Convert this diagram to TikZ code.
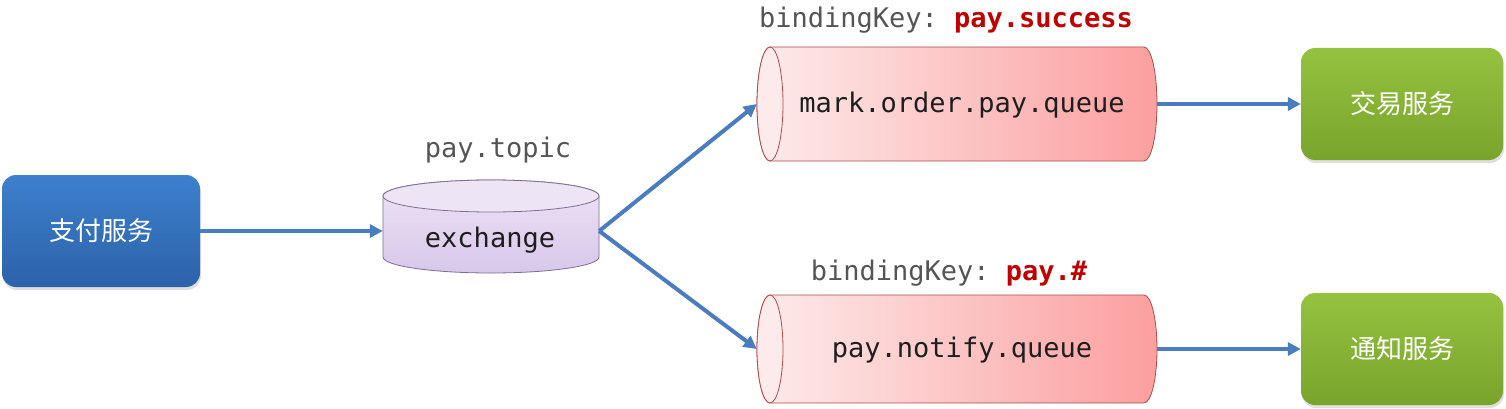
\documentclass[tikz,border=0pt]{standalone}
\usepackage{fontspec}
\setmonofont{DejaVu Sans Mono}
\newfontfamily\cjk{Noto Sans CJK SC}
\usetikzlibrary{arrows.meta,backgrounds,shadows}
\definecolor{arrowblue}{HTML}{4A7DBF}
\definecolor{bluetop}{HTML}{3D80CD}
\definecolor{bluebot}{HTML}{2C62A9}
\definecolor{greentop}{HTML}{95C23F}
\definecolor{greenbot}{HTML}{78A42C}
\definecolor{lavtop}{HTML}{EDE4F6}
\definecolor{lavbot}{HTML}{D8C7EA}
\definecolor{lavedge}{HTML}{7E6E92}
\definecolor{pinkL}{HTML}{FDEBEB}
\definecolor{pinkR}{HTML}{FC9F9F}
\definecolor{pinkedge}{HTML}{B04A4B}
\definecolor{keygray}{HTML}{555555}
\definecolor{keyred}{HTML}{C00000}
\definecolor{txt}{HTML}{1E1E1E}
\begin{document}
\begin{tikzpicture}[x=1pt,y=1pt,
  monotext/.style={font=\ttfamily\fontsize{27}{32}\selectfont, text=txt},
  service/.style={rounded corners=14pt, minimum width=198pt, minimum height=112pt,
     inner sep=0pt, font=\cjk\fontsize{26}{30}\selectfont, text=white,
     drop shadow={opacity=0.25, shadow xshift=1pt, shadow yshift=-3pt}},
  holder/.style={inner sep=0pt, monotext},
  keylabel/.style={font=\ttfamily\fontsize{27}{32}\selectfont, text=keygray, inner sep=0pt},
  flow/.style={draw=arrowblue, line width=4pt, -{Triangle[length=13pt,width=13pt]}},
]
\useasboundingbox (0,0) rectangle (1506,408);

% nodes
\node[service, top color=bluetop, bottom color=bluebot] (pay) at (101,177) {支付服务};
\node[service, top color=greentop, bottom color=greenbot, minimum width=202pt] (trade) at (1402,304) {交易服务};
\node[service, top color=greentop, bottom color=greenbot, minimum width=202pt] (notify) at (1402,59) {通知服务};

\node[holder, minimum width=216pt, minimum height=94pt] (ex) at (491,177) {};
\node[monotext, inner sep=0pt] (exlabel) at (490,168) {exchange};
\node[monotext, inner sep=0pt, text=keygray] (topic) at (498,258) {pay.topic};

\node[holder, minimum width=400pt, minimum height=114pt] (q1) at (957,304) {};
\node[monotext, inner sep=0pt] (q1label) at (962,303) {mark.order.pay.queue};
\node[holder, minimum width=400pt, minimum height=108pt] (q2) at (957,59) {};
\node[monotext, inner sep=0pt] (q2label) at (962,58) {pay.notify.queue};

\node[keylabel] (k1) at (946,388) {bindingKey: \textcolor{keyred}{\bfseries pay.success}};
\node[keylabel] (k2) at (949,135) {bindingKey: \textcolor{keyred}{\bfseries pay.\#}};

% shapes on background
\begin{scope}[on background layer]
\fill[white] (0,0) rectangle (1506,408);
% exchange cylinder
\path[top color=lavtop, bottom color=lavbot, draw=lavedge, line width=0.8pt]
  (383,212) -- (383,151) arc[start angle=180, end angle=360, x radius=108, y radius=16]
  -- (599,212) arc[start angle=0, end angle=180, x radius=108, y radius=16] -- cycle;
\draw[fill=lavtop, draw=lavedge, line width=0.8pt] (491,212) ellipse[x radius=108, y radius=16];
% queue 1
\path[left color=pinkL, right color=pinkR, draw=pinkedge, line width=0.8pt]
  (770,361) -- (1144,361) arc[start angle=90, end angle=-90, x radius=13, y radius=57]
  -- (770,247) arc[start angle=270, end angle=90, x radius=13, y radius=57] -- cycle;
\draw[fill=pinkL, draw=pinkedge, line width=0.8pt] (770,304) ellipse[x radius=13, y radius=57];
% queue 2
\path[left color=pinkL, right color=pinkR, draw=pinkedge, line width=0.8pt]
  (770,113) -- (1144,113) arc[start angle=90, end angle=-90, x radius=13, y radius=54]
  -- (770,5) arc[start angle=270, end angle=90, x radius=13, y radius=54] -- cycle;
\draw[fill=pinkL, draw=pinkedge, line width=0.8pt] (770,59) ellipse[x radius=13, y radius=54];
\end{scope}

% connectors
\draw[flow] (pay.east) -- (ex.west);
\draw[flow] (ex.east) -- (q1.west);
\draw[flow] (ex.east) -- (q2.west);
\draw[flow] (q1.east) -- (trade.west);
\draw[flow] (q2.east) -- (notify.west);
\end{tikzpicture}
\end{document}
